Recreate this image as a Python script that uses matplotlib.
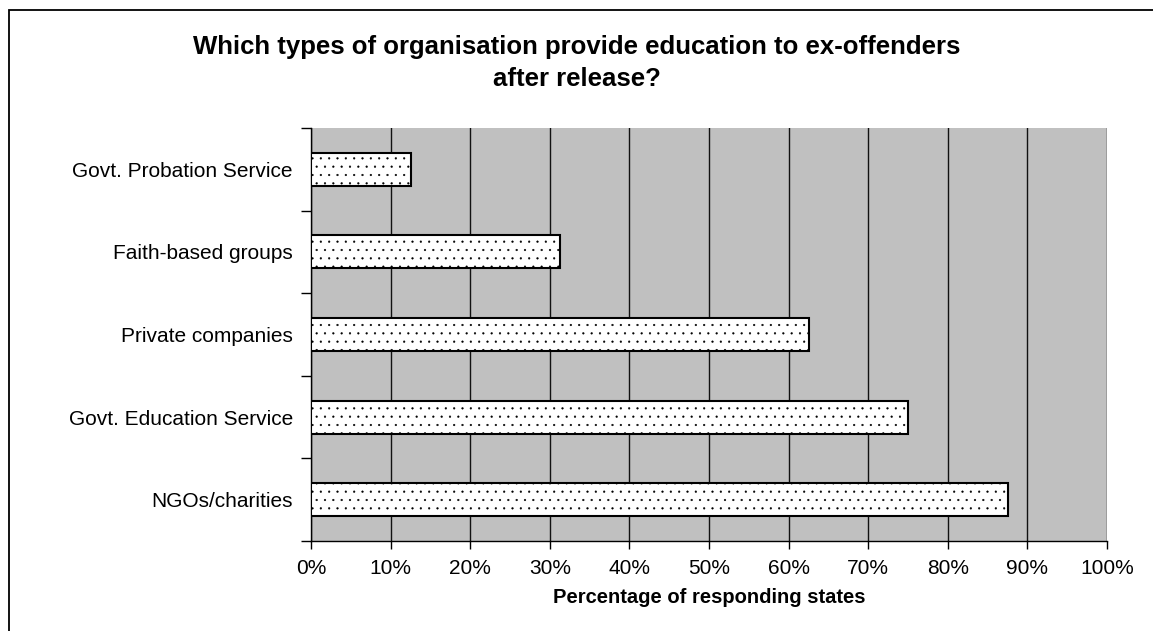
import matplotlib
matplotlib.use("Agg")
import matplotlib.pyplot as plt
from matplotlib.patches import Rectangle
from matplotlib.ticker import PercentFormatter, FixedLocator

plt.rcParams['font.family'] = ['Liberation Sans', 'DejaVu Sans']
plt.rcParams['hatch.linewidth'] = 0.35
plt.rcParams['hatch.color'] = '#444444'

# data (share of responding states, %)
categories = ["NGOs/charities", "Govt. Education Service", "Private companies",
              "Faith-based groups", "Govt. Probation Service"]
values = [87.5, 75.0, 62.5, 31.25, 12.5]
x_ticks = [0, 10, 20, 30, 40, 50, 60, 70, 80, 90, 100]

fig = plt.figure(figsize=(11.53, 6.31), dpi=100)
# outer chart border (cropped on the right and bottom in the original)
fig.patches.append(Rectangle((8.5 / 1153, -0.1), 1.2, 1.1 - 9.5 / 631,
                             transform=fig.transFigure, fill=False,
                             edgecolor='black', lw=1.3))

ax = fig.add_axes([311 / 1153, 1 - 541 / 631, 796 / 1153, 413 / 631])
ax.set_facecolor('#C0C0C0')

y = list(range(len(categories)))
ax.barh(y, values, height=0.4, color='white', edgecolor='black',
        linewidth=1.5, hatch='..', zorder=3)

ax.set_xlim(0, 100)
ax.set_ylim(-0.5, len(categories) - 0.5)
ax.set_xticks(x_ticks)
ax.xaxis.set_major_formatter(PercentFormatter(decimals=0))
ax.grid(axis='x', color='#111111', linewidth=1, zorder=1)
ax.set_axisbelow(True)

# category labels centred, ticks at the boundaries
ax.set_yticks(y)
ax.set_yticklabels(categories, fontsize=15)
ax.tick_params(axis='y', length=0, pad=13)
ax.yaxis.set_minor_locator(FixedLocator([i - 0.5 for i in range(len(categories) + 1)]))
ax.tick_params(axis='y', which='minor', length=7, width=1)
ax.tick_params(axis='x', length=6, width=1, labelsize=15, pad=7)

for s in ['top', 'right']:
    ax.spines[s].set_visible(False)
ax.spines['left'].set_linewidth(1)
ax.spines['bottom'].set_linewidth(1)

ax.set_xlabel("Percentage of responding states", fontsize=14.5,
              fontweight='bold', labelpad=7)
fig.text(0.5, 1 - 63 / 631,
         "Which types of organisation provide education to ex-offenders\nafter release?",
         ha='center', va='center', fontsize=18.5, fontweight='bold',
         linespacing=1.38)

fig.savefig("out.png", dpi=100)
